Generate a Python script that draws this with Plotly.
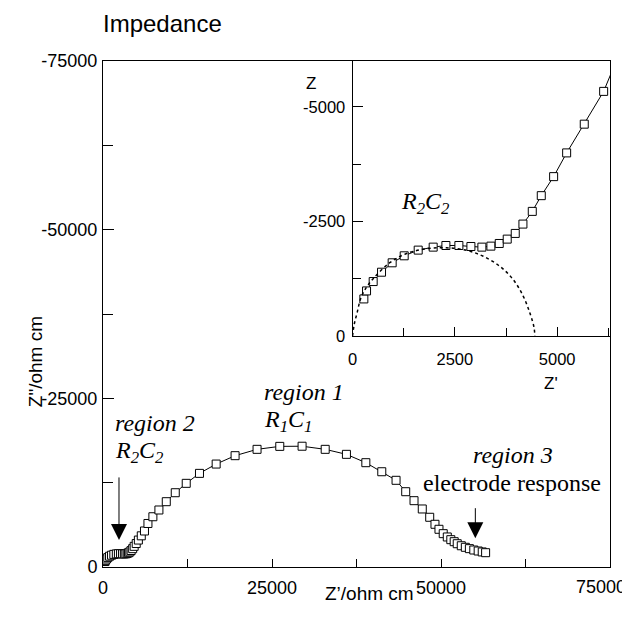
import plotly.graph_objects as go

# Impedance data (Z' real, Z'' imaginary), ohm cm
z_real = [276, 342, 504, 708, 968, 1262, 1604, 1970, 2281, 2598, 2892, 3160, 3380,
          3584, 3779, 3975, 4163, 4391, 4611, 4913, 5231, 5661, 6135, 6650, 7380,
          8270, 9360, 10690, 12310, 14270, 16740, 19540, 22790, 26150, 29450, 32870,
          36010, 38880, 41240, 43350, 44780, 46010, 47230, 48330, 49110, 49700,
          50330, 50930, 51450, 51950, 52400, 53000, 53600, 54200, 54850, 55500,
          56100, 56600]
z_imag = [-809, -984, -1188, -1392, -1597, -1750, -1874, -1939, -1975, -1975, -1953,
          -1939, -1961, -2019, -2114, -2238, -2442, -2719, -3062, -3477, -3995, -4622,
          -5337, -6450, -7450, -8450, -9680, -11010, -12400, -13880, -15260, -16500,
          -17440, -17880, -17900, -17440, -16700, -15460, -14120, -12850, -11160,
          -9830, -8600, -7370, -6330, -5590, -4940, -4450, -4050, -3750, -3450,
          -3150, -2920, -2720, -2520, -2370, -2230, -2120]

# dotted R2C2 fit arc shown in the inset
arc_real = [0, 40, 110, 200, 330, 504, 911, 1318, 1807, 2296, 2785, 3192, 3600,
            3926, 4170, 4333, 4431, 4455]
arc_imag = [0, -250, -500, -820, -1050, -1250, -1600, -1800, -1905, -1925, -1870,
            -1740, -1520, -1230, -870, -500, -200, 0]

main_x_ticks = [0, 25000, 50000, 75000]
main_x_labels = ["0", "25000", "50000", ""]
last_x_label = "75000"
main_y_ticks = [0, -25000, -50000, -75000]
main_y_labels = ["0", "-25000", "-50000", "-75000"]
inset_x_ticks = [0, 2500, 5000]
inset_x_labels = ["0", "2500", "5000"]
inset_y_ticks = [0, -2500, -5000]
inset_y_labels = ["0", "-2500", "-5000"]

SANS = "Liberation Sans, Arial, sans-serif"
SERIF = "Liberation Serif, Times New Roman, serif"

marker = dict(symbol="square", size=8, color="white", line=dict(color="black", width=1))

fig = go.Figure()
fig.add_trace(go.Scatter(x=z_real, y=z_imag, mode="lines+markers",
                         line=dict(color="black", width=1), marker=marker,
                         xaxis="x", yaxis="y", showlegend=False))
fig.add_trace(go.Scatter(x=z_real, y=z_imag, mode="lines+markers",
                         line=dict(color="black", width=1), marker=marker,
                         xaxis="x2", yaxis="y2", showlegend=False))
fig.add_trace(go.Scatter(x=arc_real, y=arc_imag, mode="lines",
                         line=dict(color="black", width=1.5, dash="dot", shape="spline"),
                         xaxis="x2", yaxis="y2", showlegend=False))

axis_common = dict(showline=True, linecolor="black", linewidth=1, showgrid=False,
                   zeroline=False, ticks="inside", tickcolor="black", tickwidth=1)

fig.update_layout(
    width=630, height=620,
    margin=dict(l=95, r=28, t=53, b=61, autoexpand=False),
    paper_bgcolor="white", plot_bgcolor="white",
    font=dict(family=SANS, color="black"),
    title=dict(text="Impedance", x=0, xref="paper", xanchor="left",
               y=1 - 16 / 620, yref="container", yanchor="middle",
               font=dict(size=24, family=SANS, color="black")),
    xaxis=dict(**axis_common, domain=[0, 1], range=[0, 75000], mirror=True,
               tickvals=main_x_ticks, ticktext=main_x_labels, ticklen=8,
               tickfont=dict(size=18), ticklabelstandoff=4,
               minor=dict(ticks="inside", ticklen=8, dtick=12500, tickcolor="black")),
    yaxis=dict(**axis_common, domain=[0, 1], range=[0, -75000], mirror=True,
               tickvals=main_y_ticks, ticktext=main_y_labels, ticklen=11,
               tickfont=dict(size=18), ticklabelstandoff=1,
               minor=dict(ticks="inside", ticklen=10, dtick=12500, tickcolor="black")),
    xaxis2=dict(**axis_common, domain=[0.4922, 1], range=[0, 6290], anchor="y2",
                tickvals=inset_x_ticks, ticktext=inset_x_labels, ticklen=9,
                tickfont=dict(size=16.5), ticklabelstandoff=8,
                minor=dict(ticks="inside", ticklen=8, dtick=1250, tickcolor="black")),
    yaxis2=dict(**axis_common, domain=[0.4565, 1], range=[0, -6000], anchor="x2",
                tickvals=inset_y_ticks, ticktext=inset_y_labels, ticklen=10,
                tickfont=dict(size=16.5), ticklabelstandoff=3,
                minor=dict(ticks="inside", ticklen=8, dtick=1250, tickcolor="black")),
)

ann_font = dict(family=SERIF, size=24, color="black")
annotations = [
    # last x tick label, pulled inside the page
    dict(text=last_x_label, x=75000, y=0, xref="x", yref="paper", xanchor="right",
         yanchor="top", xshift=18, yshift=-8, showarrow=False,
         font=dict(family=SANS, size=18, color="black")),
    # axis titles
    dict(text="Z’/ohm cm", x=0.5264, y=-0.0771, xref="paper", yref="paper",
         showarrow=False, font=dict(family=SANS, size=19, color="black")),
    dict(text="Z\"/ohm cm", x=-0.1585, y=0.405, xref="paper", yref="paper",
         textangle=-90, showarrow=False, font=dict(family=SANS, size=19, color="black")),
    dict(text="Z", x=0.41, y=0.978, xref="paper", yref="paper",
         showarrow=False, font=dict(family=SANS, size=17, color="black")),
    dict(text="Z'", x=0.9007, y=0.3617, xref="paper", yref="paper",
         showarrow=False, font=dict(family=SANS, size=17, color="black")),
    # region labels
    dict(text="<i>region 1</i>", x=23575, y=-25980, xref="x", yref="y",
         xanchor="left", yanchor="middle", showarrow=False, font=ann_font),
    dict(text="<i>R<sub>1</sub>C<sub>1</sub></i>", x=23575, y=-21640, xref="x", yref="y",
         xanchor="left", yanchor="middle", showarrow=False, font=ann_font),
    dict(text="<i>region 2</i>", x=1435, y=-21340, xref="x", yref="y",
         xanchor="left", yanchor="middle", showarrow=False, font=ann_font),
    dict(text="<i>R<sub>2</sub>C<sub>2</sub></i>", x=1435, y=-17090, xref="x", yref="y",
         xanchor="left", yanchor="middle", showarrow=False, font=ann_font),
    dict(text="<i>region 3</i>", x=60600, y=-16600, xref="x", yref="y",
         xanchor="center", yanchor="middle", showarrow=False, font=ann_font),
    dict(text="electrode response", x=60520, y=-12450, xref="x", yref="y",
         xanchor="center", yanchor="middle", showarrow=False, font=ann_font),
    dict(text="<i>R<sub>2</sub>C<sub>2</sub></i>", x=1791, y=-2909, xref="x2", yref="y2",
         xanchor="center", yanchor="middle", showarrow=False, font=ann_font),
    # arrows
    dict(text="", x=2366, y=-4000, ax=2366, ay=-13500, xref="x", yref="y",
         axref="x", ayref="y", showarrow=True, arrowhead=2, arrowsize=3.2,
         arrowwidth=1, arrowcolor="black", standoff=0),
    dict(text="", x=55080, y=-4250, ax=55080, ay=-8940, xref="x", yref="y",
         axref="x", ayref="y", showarrow=True, arrowhead=2, arrowsize=3.2,
         arrowwidth=1, arrowcolor="black", standoff=0),
]
fig.update_layout(annotations=annotations)

fig.write_html("out.html")
